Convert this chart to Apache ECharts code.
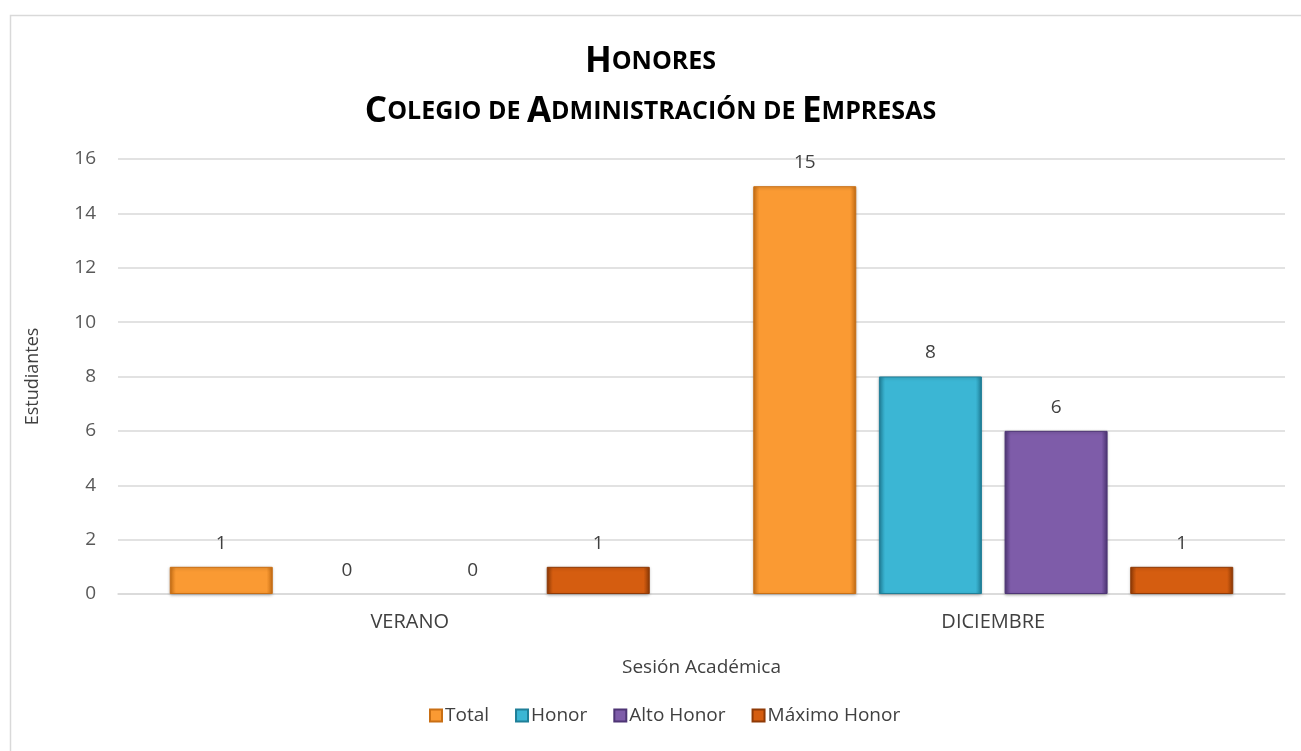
<!DOCTYPE html>
<html>
<head>
<meta charset="utf-8">
<script src="https://cdn.jsdelivr.net/npm/echarts@6/dist/echarts.min.js"></script>
<style>
  html, body { margin: 0; padding: 0; background: #fff; }
  #chart { width: 1301px; height: 751px; }
</style>
</head>
<body>
<div id="chart"></div>
<script>
// data
const categories = ["VERANO", "DICIEMBRE"];
const seriesNames = ["Total", "Honor", "Alto Honor", "Máximo Honor"];
const totalVals = [1, 15];
const honorVals = [0, 8];
const altoVals = [0, 6];
const maximoVals = [1, 1];
const yTicks = [0, 2, 4, 6, 8, 10, 12, 14, 16];

const font = "'Open Sans', 'Liberation Sans', sans-serif";
const colors = [
  ["#c96f14", "#fa9a33", "#fcb45a"],
  ["#1f7f98", "#3bb6d4", "#6fd3ea"],
  ["#4e3575", "#7e5ca9", "#a988d3"],
  ["#8f3a06", "#d55d10", "#f0863a"]
];

// bevel-ish fill: dark edges, light centre
function barFill(c) {
  return new echarts.graphic.LinearGradient(0, 0, 1, 0, [
    { offset: 0, color: c[0] },
    { offset: 0.06, color: c[1] },
    { offset: 0.94, color: c[1] },
    { offset: 1, color: c[0] }
  ]);
}

// small caps title made from rich text
function smallCaps(line) {
  return line.split(" ").map(function (w) {
    if (w === "de") return "{s|DE}";
    return "{b|" + w[0] + "}{s|" + w.slice(1).toUpperCase() + "}";
  }).join("{s| }");
}

const data = [totalVals, honorVals, altoVals, maximoVals];

let myChart = echarts.init(document.getElementById("chart"));

let option = {
  backgroundColor: "#fff",
  animation: false,
  graphic: [{
    type: "rect",
    left: 8, top: 13,
    shape: { width: 1320, height: 800 },
    style: { fill: "none", stroke: "#d9d9d9", lineWidth: 1.5 },
    z: -1
  }],
  title: {
    text: smallCaps("Honores") + "\n" + smallCaps("Colegio de Administración de Empresas"),
    left: "center",
    top: 37,
    padding: [0, 0, 0, 16],
    textStyle: {
      rich: {
        b: { fontFamily: font, fontWeight: "bold", fontSize: 35, color: "#000", lineHeight: 50 },
        s: { fontFamily: font, fontWeight: "bold", fontSize: 25, color: "#000", lineHeight: 50 }
      }
    }
  },
  legend: {
    data: seriesNames,
    bottom: 21,
    left: 424,
    itemWidth: 12,
    itemHeight: 12,
    itemGap: 26,
    icon: "rect",
    textStyle: { fontFamily: font, fontSize: 19, color: "#404040", padding: [0, 0, 0, -2] }
  },
  grid: { left: 118, right: 16, top: 159, bottom: 157 },
  xAxis: {
    type: "category",
    data: categories,
    name: "Sesión Académica",
    nameLocation: "middle",
    nameGap: 64,
    nameTextStyle: { fontFamily: font, fontSize: 19, color: "#404040" },
    axisLine: { lineStyle: { color: "#d9d9d9", width: 1.5 } },
    axisTick: { show: false },
    axisLabel: { fontFamily: font, fontSize: 20, color: "#404040", margin: 18 }
  },
  yAxis: {
    type: "value",
    min: yTicks[0],
    max: yTicks[yTicks.length - 1],
    interval: 2,
    name: "Estudiantes",
    nameLocation: "middle",
    nameGap: 76,
    nameTextStyle: { fontFamily: font, fontSize: 18, color: "#404040" },
    axisLabel: { fontFamily: font, fontSize: 19, color: "#595959", margin: 22 },
    splitLine: { lineStyle: { color: "#d9d9d9", width: 1.5 } },
    axisLine: { show: false },
    axisTick: { show: false }
  },
  series: seriesNames.map(function (name, i) {
    return {
      name: name,
      type: "bar",
      // zero bars get no fill or border so only their label shows
      data: data[i].map(function (v) {
        return v === 0 ? { value: v, itemStyle: { color: "transparent", borderWidth: 0, shadowBlur: 0 } } : v;
      }),
      barWidth: 103,
      barGap: "22%",
      itemStyle: {
        color: barFill(colors[i]),
        borderColor: colors[i][0],
        borderWidth: 1,
        shadowColor: "rgba(0,0,0,0.25)",
        shadowBlur: 3,
        shadowOffsetY: 1
      },
      label: {
        show: true,
        position: "top",
        distance: 14,
        fontFamily: font,
        fontSize: 19,
        color: "#404040"
      }
    };
  })
};

myChart.setOption(option);
</script>
</body>
</html>
